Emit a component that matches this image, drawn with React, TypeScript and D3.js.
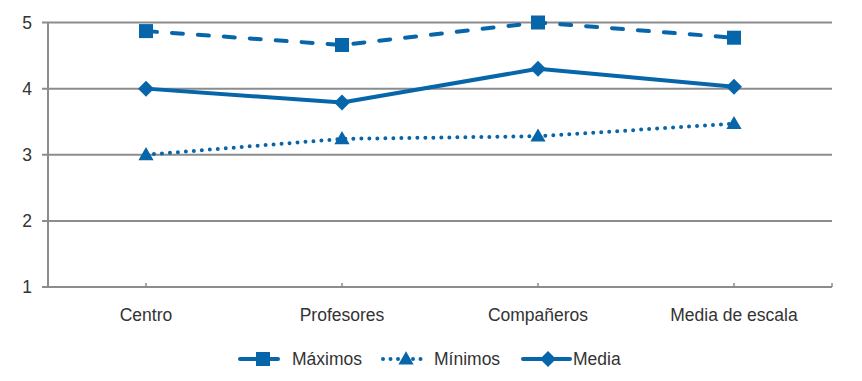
import React from "react";
import * as d3 from "d3";

const categories = ["Centro", "Profesores", "Compañeros", "Media de escala"];
const maximos = [4.87, 4.66, 5.0, 4.77];
const minimos = [3.0, 3.24, 3.28, 3.47];
const media = [4.0, 3.79, 4.3, 4.03];
const yTicks = [1, 2, 3, 4, 5];

const W = 862, H = 381;
const left = 48, right = 832, top = 22.5, bottom = 287;
const BLUE = "#0766a9";
const GRID = "#8c8c8e";
const TEXT = "#333333";
const FONT = "'Liberation Sans', Arial, Helvetica, sans-serif";

const x = d3.scaleBand<string>().domain(categories).range([left, right]);
const y = d3.scaleLinear().domain([1, 5]).range([bottom, top]);
const cx = (c: string) => (x(c) as number) + x.bandwidth() / 2;

function Marker({ kind, px, py }: { kind: string; px: number; py: number }) {
  if (kind === "square") return <rect x={px - 7} y={py - 7} width={14} height={14} fill={BLUE} />;
  if (kind === "triangle") {
    const p = d3.symbol(d3.symbolTriangle, 100)();
    return <path d={p as string} transform={`translate(${px},${py + 1})`} fill={BLUE} />;
  }
  return <path d={`M${px},${py - 8}L${px + 8},${py}L${px},${py + 8}L${px - 8},${py}Z`} fill={BLUE} />;
}

const series = [
  { name: "Máximos", values: maximos, kind: "square", dash: "11 15", width: 4 },
  { name: "Mínimos", values: minimos, kind: "triangle", dash: "0 8", width: 4 },
  { name: "Media", values: media, kind: "diamond", dash: "", width: 4 },
];

const legendPos = [
  { x0: 240, x1: 278, mx: 263, tx: 292 },
  { x0: 383, x1: 427, mx: 406, tx: 434 },
  { x0: 523, x1: 570, mx: 548, tx: 573 },
];

export default function App() {
  const line = d3.line<number>().x((_, i) => cx(categories[i])).y((d) => y(d));
  return (
    <svg width={W} height={H} style={{ position: "absolute", left: 0, top: 0 }} fontFamily={FONT}>
      <rect width={W} height={H} fill="#fff" />
      {yTicks.map((t) => (
        <g key={t}>
          <line x1={42} x2={right} y1={y(t)} y2={y(t)} stroke={GRID} strokeWidth={2} />
          <text x={32} y={y(t)} dy="0.35em" textAnchor="end" fontSize={17.5} fill={TEXT}>{t}</text>
        </g>
      ))}
      <line x1={left} x2={left} y1={top} y2={bottom} stroke={GRID} strokeWidth={2} />
      {categories.map((c) => (
        <g key={c}>
          <line x1={cx(c)} x2={cx(c)} y1={bottom - 4} y2={bottom} stroke={GRID} strokeWidth={1.5} />
          <text x={cx(c)} y={321} textAnchor="middle" fontSize={17.5} fill={TEXT}>{c}</text>
        </g>
      ))}
      <line x1={right} x2={right} y1={bottom - 4} y2={bottom} stroke={GRID} strokeWidth={1.5} />
      {series.map((s) => (
        <g key={s.name}>
          <path d={line(s.values) as string} fill="none" stroke={BLUE} strokeWidth={s.width}
            strokeDasharray={s.dash || undefined} strokeLinecap="round" strokeLinejoin="round" />
          {s.values.map((v, i) => (
            <Marker key={i} kind={s.kind} px={cx(categories[i])} py={y(v)} />
          ))}
        </g>
      ))}
      {series.map((s, i) => {
        const L = legendPos[i];
        const ly = 359;
        return (
          <g key={s.name}>
            <line x1={L.x0} x2={L.x1} y1={ly} y2={ly} stroke={BLUE} strokeWidth={4}
              strokeDasharray={s.kind === "triangle" ? "0 7.5" : undefined} strokeLinecap="round" />
            <Marker kind={s.kind} px={L.mx} py={ly} />
            <text x={L.tx} y={ly} dy="0.35em" fontSize={17.5} fill={TEXT}>{s.name}</text>
          </g>
        );
      })}
    </svg>
  );
}
